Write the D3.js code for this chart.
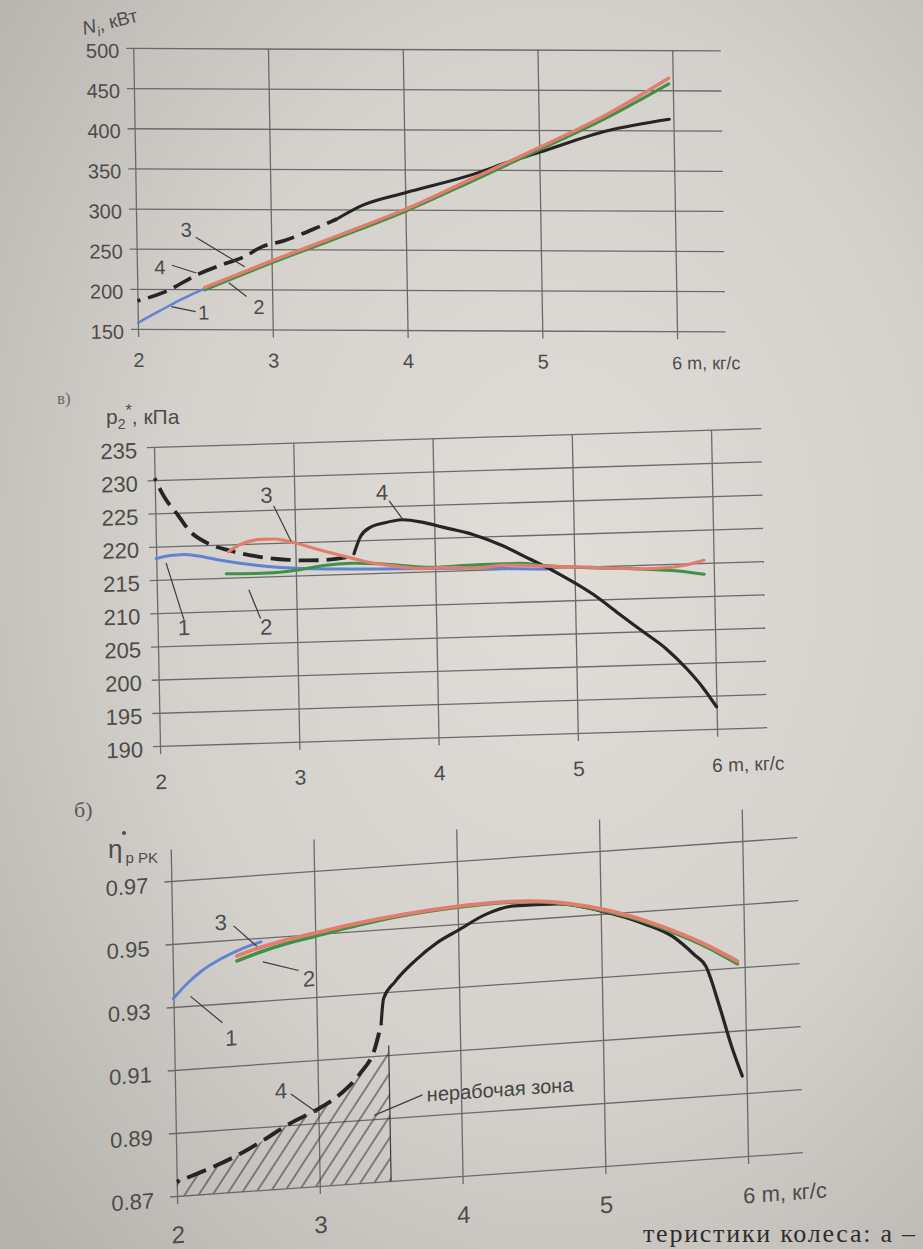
<!DOCTYPE html>
<html><head><meta charset="utf-8">
<script src="https://cdn.jsdelivr.net/npm/d3@7"></script>
<style>
html,body{margin:0;padding:0;background:#cfccc7;}
svg{display:block;}
</style></head><body>
<svg id="chart" width="923" height="1249"></svg>
<script>
// ================= DATA =================
const massTicks = [2, 3, 4, 5, 6];
const powerTicks = [150, 200, 250, 300, 350, 400, 450, 500];
const pressureTicks = [190, 195, 200, 205, 210, 215, 220, 225, 230, 235];
const effTicks = [0.87, 0.89, 0.91, 0.93, 0.95, 0.97];

// Panel a: N_i, kW vs m, kg/s
const power1 = [[2.0,157.5],[2.1,167],[2.2,176],[2.3,185],[2.4,193],[2.5,200.5]];
const power2 = [[2.5,199],[3,233],[3.5,265],[4,298],[4.5,336],[5,375],[5.5,415],[5.97,458]];
const power3 = [[2.5,202],[3,235.5],[3.5,267.5],[4,300.5],[4.5,339],[5,378],[5.5,419],[5.97,465]];
const power4Unstable = [[2.0,185],[2.2,196],[2.46,219],[2.64,231],[2.79,240],[2.93,253],[3.1,261],[3.36,278.5],[3.49,288]];
const power4Stable = [[3.49,288],[3.68,305],[4,321],[4.5,344],[4.79,361],[5,372],[5.5,399],[5.97,414]];

// Panel в: p2*, kPa vs m
const pressure1 = [[2.0,218.2],[2.1,218.6],[2.2,218.7],[2.3,218.4],[2.45,217.7],[2.6,217.1],[2.8,216.5],[3.0,216.1],[3.3,215.8],[3.6,215.6],[4.0,215.4],[4.3,215.3],[4.6,215.0],[4.8,214.8]];
const pressure2 = [[2.5,215.6],[2.8,215.5],[3.0,215.8],[3.2,216.4],[3.4,216.6],[3.65,216.3],[4.0,215.6],[4.3,215.8],[4.6,215.8],[4.8,215.3],[5.1,214.8],[5.4,214.5],[5.7,214.0],[5.93,213.3]];
const pressure3 = [[2.52,218.9],[2.6,219.9],[2.75,220.6],[2.85,220.6],[3.0,219.9],[3.15,218.9],[3.33,217.8],[3.5,216.8],[3.7,216.0],[3.9,215.5],[4.1,215.5],[4.3,215.3],[4.5,215.6],[4.7,215.4],[4.9,215.1],[5.1,214.9],[5.3,214.6],[5.5,214.4],[5.7,214.5],[5.85,215.0],[5.93,215.4]];
const pressure4Unstable = [[2.0,230.3],[2.07,227.3],[2.16,224.7],[2.24,222.3],[2.36,220.4],[2.54,219.0],[2.74,218.0],[2.95,217.4],[3.16,217.2],[3.36,217.5],[3.42,218.0]];
const pressure4Stable = [[3.42,218.0],[3.47,220.6],[3.54,221.9],[3.64,222.5],[3.77,222.9],[3.92,222.4],[4.06,221.6],[4.27,220.4],[4.48,218.6],[4.68,216.4],[4.89,214.0],[5.13,210.8],[5.31,207.8],[5.48,205.0],[5.65,202.2],[5.79,199.2],[5.9,196.4],[6.0,193.3]];

// Panel б: efficiency vs m
const eff1 = [[2.0,0.9327],[2.1,0.9372],[2.2,0.9408],[2.35,0.9445],[2.5,0.9472],[2.62,0.9487]];
const eff2 = [[2.45,0.9432],[2.6,0.9453],[2.8,0.9476],[3.0,0.9493],[3.3,0.9518],[3.6,0.9538],[4.0,0.9553],[4.3,0.9558],[4.6,0.9551],[4.9,0.9525],[5.2,0.9484],[5.5,0.9427],[5.75,0.9369],[5.95,0.9312]];
const eff3 = [[2.45,0.9448],[2.6,0.9468],[2.8,0.9488],[3.0,0.9503],[3.3,0.9525],[3.6,0.9542],[4.0,0.9556],[4.3,0.956],[4.6,0.9553],[4.9,0.9528],[5.2,0.9488],[5.5,0.9432],[5.75,0.9375],[5.95,0.932]];
const eff4Unstable = [[2.0,0.8745],[2.2,0.8775],[2.4,0.881],[2.6,0.8855],[2.8,0.8905],[3.0,0.8945],[3.15,0.8985],[3.3,0.905],[3.4,0.912],[3.45,0.92]];
const eff4Stable = [[3.45,0.92],[3.47,0.928],[3.55,0.933],[3.7,0.9395],[3.85,0.9445],[4.0,0.948],[4.2,0.9525],[4.4,0.9545],[4.7,0.9542],[5.0,0.951],[5.3,0.946],[5.5,0.9413],[5.65,0.935],[5.73,0.931],[5.82,0.918],[5.9,0.905],[5.97,0.8955]];
const deadZoneEdge = 3.5;     // m, kg/s : right border of the non-working zone
const deadZoneTop = 0.913;    // efficiency at the border

// Curve number labels: [label, labelPos, leaderFrom, leaderTo]
const powerLabels = [["1",[2.49,171],[2.43,172],[2.25,178]],["2",[2.9,178],[2.81,191],[2.68,208]],["3",[2.37,274],[2.44,264.5],[2.8,228]],["4",[2.17,227],[2.26,229.6],[2.44,220]]];
const pressureLabels = [["1",[2.19,207.7],[2.19,208.9],[2.07,217.5]],["2",[2.78,207.4],[2.74,208.7],[2.66,213.1]],["3",[2.8,227.2],[2.85,225.6],[2.97,220.2]],["4",[3.63,227.1],[3.68,225.8],[3.77,223.1]]];
const effLabels = [["1",[2.4,0.9189],[2.34,0.9239],[2.12,0.933]],["2",[2.95,0.9359],[2.88,0.9388],[2.63,0.9423]],["3",[2.34,0.9557],[2.43,0.9544],[2.59,0.9474]],["4",[2.74,0.901],[2.81,0.8998],[2.99,0.8934]]];
const zoneLabel = ["нерабочая зона",[3.76,0.8966],[3.73,0.8966],[3.39,0.8912]];

// ================= STYLE =================
const GRID = "#6b6a68", TEXT = "#4d4c4a";
const C_BLUE = "#6283cf", C_GREEN = "#3f9147", C_RED = "#e27c6c", C_BLACK = "#262524";
const FONT = "'Liberation Sans', Arial, sans-serif";

const svg = d3.select("#chart");
const defs = svg.append("defs");
const bg = defs.append("radialGradient").attr("id","paper").attr("cx","0.6").attr("cy","0.45").attr("r","0.78");
bg.append("stop").attr("offset","0").attr("stop-color","#e1ded9");
bg.append("stop").attr("offset","0.55").attr("stop-color","#d4d1cc");
bg.append("stop").attr("offset","1").attr("stop-color","#b6b3ae");
const hatch = defs.append("pattern").attr("id","hatch").attr("patternUnits","userSpaceOnUse")
  .attr("width",12).attr("height",12).attr("patternTransform","rotate(35)");
hatch.append("line").attr("x1",6).attr("y1",0).attr("x2",6).attr("y2",12).attr("stroke","#3a3938").attr("stroke-width",1.1);

svg.append("rect").attr("width",923).attr("height",1249).attr("fill","url(#paper)");

function drawPanel(cfg) {
  const g = svg.append("g").attr("transform", `matrix(1,${cfg.tilt},${cfg.lean},1,${cfg.ox},${cfg.oy})`);
  const x = d3.scaleLinear().domain([2, 6]).range([0, cfg.W]);
  const y = d3.scaleLinear().domain(cfg.yDomain).range([0, -cfg.H]);
  const xRight = x(cfg.gridRight);

  const ya = g.append("g").call(d3.axisLeft(y).tickValues(cfg.yTicks).tickSizeOuter(0)
      .tickSizeInner(7).tickPadding(cfg.yPad).tickFormat(cfg.yFormat));
  ya.select(".domain").remove();
  ya.selectAll(".tick line").attr("x1", -7).attr("x2", xRight).attr("stroke", GRID).attr("stroke-width", 1.3);
  ya.selectAll(".tick text").attr("fill", TEXT).attr("y", 3)
    .style("font-family", FONT).style("font-size", cfg.yFont + "px");

  const xa = g.append("g").call(d3.axisBottom(x).tickValues(massTicks).tickSizeOuter(0)
      .tickSize(8).tickFormat(d => d === 6 ? "6 m, кг/с" : d));
  xa.select(".domain").remove();
  xa.selectAll(".tick line").attr("y1", 8).attr("y2", y(cfg.vTop)).attr("stroke", GRID).attr("stroke-width", 1.3);
  xa.selectAll(".tick text").attr("fill", TEXT).attr("y", cfg.xLabelY).attr("dy", 0)
    .style("font-family", FONT).style("font-size", cfg.xFont + "px");
  xa.selectAll(".tick text").filter(d => d === 6).attr("text-anchor", "start").attr("x", -6)
    .style("font-size", (cfg.xFont - 2) + "px");

  if (cfg.zone) {
    const area = d3.area().x(d => x(d[0])).y0(y(cfg.yDomain[0])).y1(d => y(d[1])).curve(d3.curveMonotoneX);
    const pts = cfg.zone.data.filter(d => d[0] <= 3.35).concat([[cfg.zone.edge, cfg.zone.top]]);
    g.append("path").attr("d", area(pts)).attr("fill", "url(#hatch)");
    g.append("line").attr("x1", x(cfg.zone.edge)).attr("x2", x(cfg.zone.edge))
      .attr("y1", y(cfg.yDomain[0])).attr("y2", y(cfg.zone.top)).attr("stroke", "#3a3938").attr("stroke-width", 1.2);
  }

  const line = d3.line().x(d => x(d[0])).y(d => y(d[1])).curve(d3.curveMonotoneX);
  cfg.series.forEach(s => {
    const p = g.append("path").attr("d", line(s.data)).attr("fill", "none")
      .attr("stroke", s.color).attr("stroke-width", s.width)
      .attr("stroke-linecap", s.dash ? "butt" : "round").attr("stroke-linejoin", "round");
    if (s.dash) p.attr("stroke-dasharray", "20,8").attr("stroke-dashoffset", 17);
  });

  cfg.labels.forEach(([t, pos, a, b]) => {
    g.append("line").attr("x1", x(a[0])).attr("y1", y(a[1])).attr("x2", x(b[0])).attr("y2", y(b[1]))
      .attr("stroke", "#3d3c3a").attr("stroke-width", 1.2);
    g.append("text").attr("x", x(pos[0])).attr("y", y(pos[1])).attr("text-anchor", "middle")
      .attr("dominant-baseline", "central").attr("fill", TEXT)
      .style("font-family", FONT).style("font-size", cfg.labelFont + "px").text(t);
  });

  if (cfg.zoneLabel) {
    const [t, pos, a, b] = cfg.zoneLabel;
    g.append("line").attr("x1", x(a[0])).attr("y1", y(a[1])).attr("x2", x(b[0])).attr("y2", y(b[1]))
      .attr("stroke", "#3d3c3a").attr("stroke-width", 1.2);
    g.append("text").attr("x", x(pos[0])).attr("y", y(pos[1])).attr("dominant-baseline", "central")
      .attr("fill", "#454442").style("font-family", FONT).style("font-size", "20px").text(t);
  }
  return g;
}

// Panel a (N_i)
drawPanel({
  ox: 138, oy: 329, W: 539, H: 281, tilt: 0.004, lean: 0.017,
  yDomain: [150, 500], yTicks: powerTicks, yFormat: d => d, yPad: 7, yFont: 20,
  vTop: 500, gridRight: 6.36, xLabelY: 38, xFont: 20, labelFont: 20,
  series: [
    {data: power1, color: C_BLUE, width: 2.4},
    {data: power4Unstable, color: C_BLACK, width: 3.6, dash: true},
    {data: power4Stable, color: C_BLACK, width: 3},
    {data: power2, color: C_GREEN, width: 3},
    {data: power3, color: C_RED, width: 3.4}
  ],
  labels: powerLabels
});

// Panel в (p2*)
drawPanel({
  ox: 160, oy: 746, W: 557, H: 299, tilt: -0.031, lean: 0.02,
  yDomain: [190, 235], yTicks: pressureTicks, yFormat: d => d, yPad: 10, yFont: 22,
  vTop: 235, gridRight: 6.36, xLabelY: 43, xFont: 21, labelFont: 22,
  series: [
    {data: pressure1, color: C_BLUE, width: 3},
    {data: pressure4Unstable, color: C_BLACK, width: 3.8, dash: true},
    {data: pressure4Stable, color: C_BLACK, width: 3.2},
    {data: pressure2, color: C_GREEN, width: 3},
    {data: pressure3, color: C_RED, width: 3.2}
  ],
  labels: pressureLabels
});

// Panel б (efficiency)
drawPanel({
  ox: 177, oy: 1196, W: 571, H: 315, tilt: -0.07, lean: 0.018,
  yDomain: [0.87, 0.97], yTicks: effTicks, yFormat: d3.format(".2f"), yPad: 16, yFont: 22,
  vTop: 0.98, gridRight: 6.385, xLabelY: 47, xFont: 24, labelFont: 22,
  zone: {data: eff4Unstable, edge: deadZoneEdge, top: deadZoneTop},
  series: [
    {data: eff1, color: C_BLUE, width: 3},
    {data: eff4Unstable, color: C_BLACK, width: 4, dash: true},
    {data: eff4Stable, color: C_BLACK, width: 3.2},
    {data: eff2, color: C_GREEN, width: 3.6},
    {data: eff3, color: C_RED, width: 3.8}
  ],
  labels: effLabels,
  zoneLabel: zoneLabel
});

// Axis titles and panel letters
const t1 = svg.append("text").attr("transform", "translate(84,35) rotate(-14)")
  .attr("fill", TEXT).style("font-family", FONT).style("font-size", "19px");
t1.append("tspan").style("font-style", "italic").text("N");
t1.append("tspan").attr("dy", 5).style("font-size", "13px").style("font-style", "italic").text("i");
t1.append("tspan").attr("dy", -5).text(", кВт");

const t2 = svg.append("text").attr("x", 106).attr("y", 424).attr("fill", TEXT)
  .style("font-family", FONT).style("font-size", "21px");
t2.append("tspan").text("p");
t2.append("tspan").attr("dy", 5).style("font-size", "14px").text("2");
t2.append("tspan").attr("dy", -13).style("font-size", "16px").text("*");
t2.append("tspan").attr("dy", 8).text(", кПа");

const t3 = svg.append("text").attr("x", 108).attr("y", 858).attr("fill", TEXT)
  .style("font-family", FONT).style("font-size", "26px");
t3.append("tspan").text("η");
t3.append("tspan").attr("dx", 3).attr("dy", 5).style("font-size", "15px").text("p PK");
svg.append("circle").attr("cx", 124).attr("cy", 833).attr("r", 2).attr("fill", TEXT);

svg.append("text").attr("x", 57).attr("y", 404).attr("fill", "#6a6864")
  .style("font-family", "'Liberation Serif', serif").style("font-size", "17px").text("в)");
svg.append("text").attr("x", 74).attr("y", 817).attr("fill", "#5a5854")
  .style("font-family", "'Liberation Serif', serif").style("font-size", "22px").text("б)");
svg.append("text").attr("x", 643).attr("y", 1242).attr("fill", "#2f2e2c")
  .attr("textLength", 272).attr("lengthAdjust", "spacing")
  .style("font-family", "'Liberation Serif', serif").style("font-size", "26px").text("теристики колеса: а –");
</script>
</body></html>
